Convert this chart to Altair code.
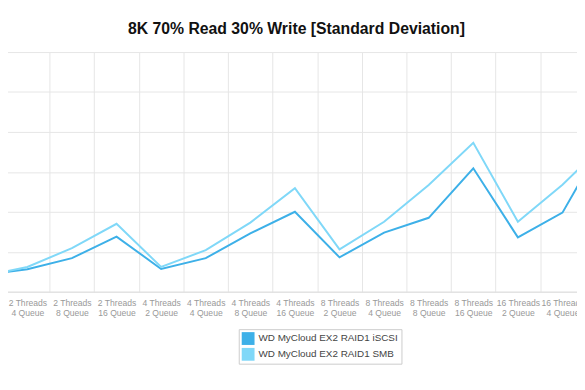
import altair as alt
import pandas as pd

categories = [
    "2 Threads 2 Queue", "2 Threads 4 Queue", "2 Threads 8 Queue", "2 Threads 16 Queue",
    "4 Threads 2 Queue", "4 Threads 4 Queue", "4 Threads 8 Queue", "4 Threads 16 Queue",
    "8 Threads 2 Queue", "8 Threads 4 Queue", "8 Threads 8 Queue", "8 Threads 16 Queue",
    "16 Threads 2 Queue", "16 Threads 4 Queue", "16 Threads 8 Queue",
]
series_names = ["WD MyCloud EX2 RAID1 iSCSI", "WD MyCloud EX2 RAID1 SMB"]
iscsi = [0.42, 0.56, 0.84, 1.38, 0.57, 0.84, 1.46, 2.00, 0.86, 1.48, 1.85, 3.09, 1.36, 1.98, 3.93]
smb = [0.38, 0.62, 1.09, 1.70, 0.62, 1.04, 1.73, 2.59, 1.06, 1.75, 2.67, 3.73, 1.75, 2.68, 3.76]
colors = ["#3db0e8", "#80d8f8"]

rows = []
for name, vals in zip(series_names, [iscsi, smb]):
    for c, v in zip(categories, vals):
        rows.append({"config": c, "value": v, "series": name})
df = pd.DataFrame(rows)

label_expr = ("[slice(datum.label, 0, indexof(datum.label, 'Threads') + 7), "
              "slice(datum.label, indexof(datum.label, 'Threads') + 8)]")

x = alt.X(
    "config:N", sort=categories,
    scale=alt.Scale(type="band", domain=categories, range=[-48.2, 630.1],
                    paddingInner=0, paddingOuter=0),
    axis=alt.Axis(title=None, labelAngle=0, tickBand="extent", grid=True, ticks=False,
                  domainColor="#dddddd", gridColor="#e6e6e6", labelColor="#999999",
                  labelFontSize=8.7, labelFont="Liberation Sans", labelExpr=label_expr,
                  labelLineHeight=10, labelPadding=7),
)
y = alt.Y(
    "value:Q", scale=alt.Scale(domain=[0, 6], nice=False),
    axis=alt.Axis(title=None, labels=False, ticks=False, domain=False,
                  gridColor="#e6e6e6", values=[0, 1, 2, 3, 4, 5, 6]),
)

legend = alt.Legend(title=None, orient="none", legendX=234, legendY=281,
                    symbolType="square", symbolSize=169, symbolOpacity=1,
                    symbolStrokeWidth=0,
                    labelFontSize=10, labelColor="#444444",
                    labelFont="Liberation Sans", strokeColor="#cccccc",
                    padding=3, rowPadding=3, labelOffset=4, fillColor="white")

color = alt.Color("series:N", scale=alt.Scale(domain=series_names, range=colors),
                  legend=legend)

squares = alt.Chart(df).mark_square(opacity=0, clip=True).encode(x=x, y=y, color=color)
lines = alt.Chart(df).mark_line(strokeWidth=2, clip=True).encode(x=x, y=y, color=color)

chart = alt.layer(squares, lines).properties(
    width=577, height=243,
    title=alt.TitleParams("8K 70% Read 30% Write [Standard Deviation]", fontSize=16,
                          font="Liberation Sans", fontWeight="bold", color="#111111",
                          anchor="middle", offset=15, dx=4),
    autosize=alt.AutoSizeParams(type="none"),
    padding={"left": 0, "top": 42, "right": 0, "bottom": 97},
).configure_view(stroke=None)

chart.save("out.html", embed_options={"renderer": "svg", "actions": False})
